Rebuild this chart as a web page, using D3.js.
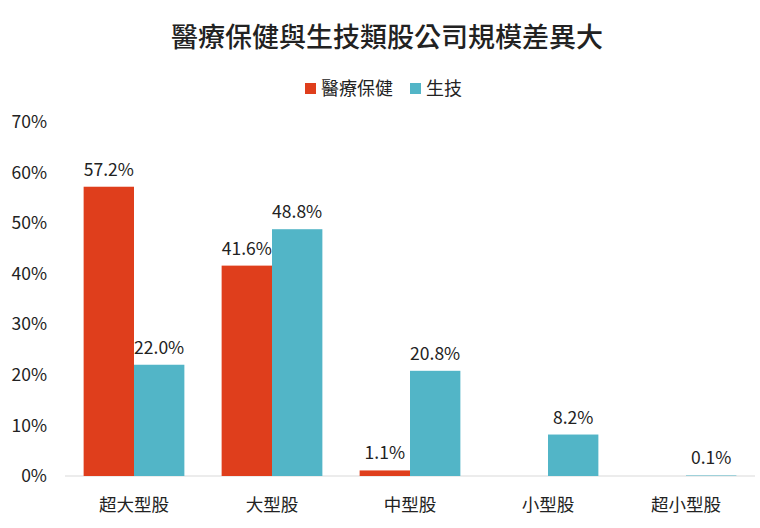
<!DOCTYPE html>
<html>
<head>
<meta charset="utf-8">
<script src="https://cdn.jsdelivr.net/npm/d3@7"></script>
<style>
  body { margin: 0; background: #fff; }
  text { font-family: "Noto Sans CJK TC", "Noto Sans", sans-serif; }
</style>
</head>
<body>
<div id="chart-area"></div>
<script>

let width = 760,
    height = 528;

// data
let categories = ["超大型股", "大型股", "中型股", "小型股", "超小型股"];
let seriesNames = ["醫療保健", "生技"];
let healthcare = [57.2, 41.6, 1.1, null, null];
let biotech = [22.0, 48.8, 20.8, 8.2, 0.1];
let yTicks = [0, 10, 20, 30, 40, 50, 60, 70];
let colors = ["#DF3E1C", "#52B5C7"];

let margin = {top: 122, right: 5, bottom: 52, left: 65};

let svg = d3.select("#chart-area").append("svg")
    .attr("width", width)
    .attr("height", height);

// title
svg.append("text")
    .attr("x", 387)
    .attr("y", 47)
    .attr("text-anchor", "middle")
    .attr("font-size", 27)
    .attr("font-weight", 500)
    .attr("fill", "#222")
    .text("醫療保健與生技類股公司規模差異大");

// legend
let legend = svg.append("g").attr("transform", "translate(305,88)");
let legendX = [0, 105];
seriesNames.forEach(function(name, i) {
  let g = legend.append("g").attr("transform", "translate(" + legendX[i] + ",0)");
  g.append("rect")
    .attr("x", 0).attr("y", -5)
    .attr("width", 11).attr("height", 11)
    .attr("fill", colors[i]);
  g.append("text")
    .attr("x", 16).attr("y", 7)
    .attr("font-size", 18)
    .attr("fill", "#222")
    .text(name);
});

let x0 = d3.scaleBand()
    .domain(categories)
    .range([margin.left, width - margin.right])
    .paddingInner(0.27)
    .paddingOuter(0.135);

let x1 = d3.scaleBand()
    .domain(seriesNames)
    .range([0, x0.bandwidth()]);

let y = d3.scaleLinear()
    .domain([0, 70])
    .range([height - margin.bottom, margin.top]);

// y axis labels
let yAxis = d3.axisLeft(y)
    .tickValues(yTicks)
    .tickFormat(function(d) { return d + "%"; })
    .tickSize(0)
    .tickPadding(0);

svg.append("g")
    .attr("transform", "translate(47,0)")
    .call(yAxis)
    .call(function(g) { g.select(".domain").remove(); })
    .selectAll("text")
      .attr("font-family", "'Noto Sans', sans-serif")
      .attr("font-size", 17.5)
      .attr("fill", "#222");

// baseline
svg.append("line")
    .attr("x1", margin.left).attr("x2", width - margin.right)
    .attr("y1", y(0)).attr("y2", y(0))
    .attr("stroke", "#d9d9d9")
    .attr("stroke-width", 1);

// bars
let rows = categories.map(function(c, i) {
  return [
    {cat: c, series: seriesNames[0], value: healthcare[i], color: colors[0]},
    {cat: c, series: seriesNames[1], value: biotech[i], color: colors[1]}
  ];
});

let group = svg.selectAll(".group")
    .data(rows)
    .enter().append("g")
    .attr("class", "group")
    .attr("transform", function(d) { return "translate(" + x0(d[0].cat) + ",0)"; });

group.selectAll("rect")
    .data(function(d) { return d.filter(function(e) { return e.value != null; }); })
    .enter().append("rect")
    .attr("x", function(d) { return x1(d.series); })
    .attr("y", function(d) { return y(d.value); })
    .attr("width", x1.bandwidth())
    .attr("height", function(d) { return y(0) - y(d.value); })
    .attr("fill", function(d) { return d.color; });

group.selectAll(".label")
    .data(function(d) { return d.filter(function(e) { return e.value != null; }); })
    .enter().append("text")
    .attr("class", "label")
    .attr("x", function(d) { return x1(d.series) + x1.bandwidth() / 2; })
    .attr("y", function(d) { return y(d.value) - 11; })
    .attr("text-anchor", "middle")
    .attr("font-family", "'Noto Sans', sans-serif")
    .attr("font-size", 17.5)
    .attr("fill", "#222")
    .text(function(d) { return d.value.toFixed(1) + "%"; });

// x axis labels
let xAxis = d3.axisBottom(x0).tickSize(0).tickPadding(0);
svg.append("g")
    .attr("transform", "translate(0," + (y(0) + 23) + ")")
    .call(xAxis)
    .call(function(g) { g.select(".domain").remove(); })
    .selectAll("text")
      .attr("font-family", "'Noto Sans CJK TC', sans-serif")
      .attr("font-size", 17.5)
      .attr("fill", "#222");

</script>
</body>
</html>
